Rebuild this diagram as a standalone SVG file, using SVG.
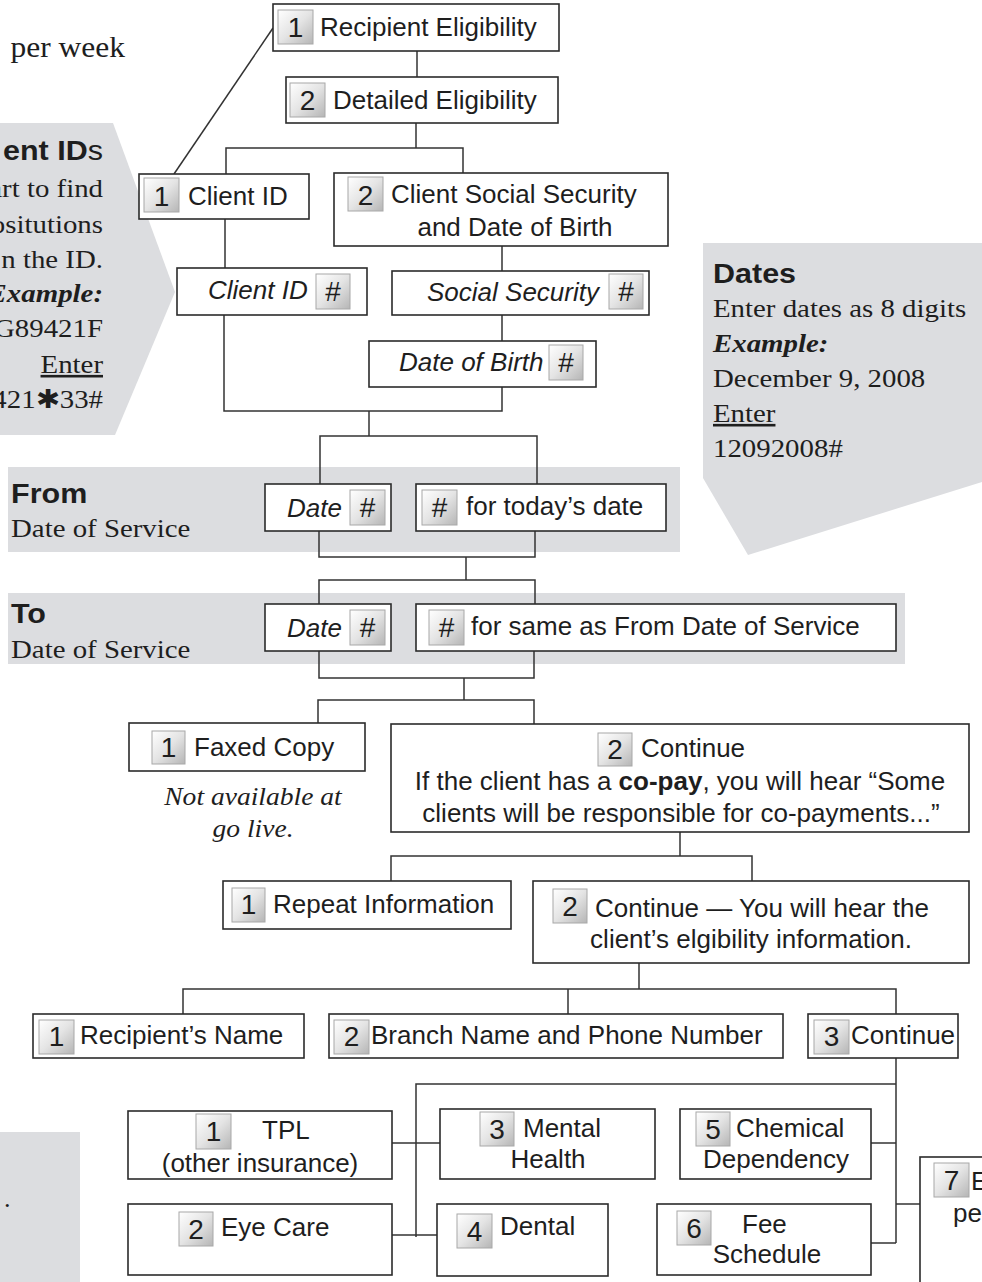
<svg xmlns="http://www.w3.org/2000/svg" width="982" height="1282" viewBox="0 0 982 1282">
<defs>
<linearGradient id="bg" x1="0" y1="0" x2="1" y2="1">
<stop offset="0" stop-color="#ffffff"/>
<stop offset="0.5" stop-color="#e4e4e4"/>
<stop offset="1" stop-color="#b5b5b5"/>
</linearGradient>
<style>
.box{fill:#fff;stroke:#2b2b2b;stroke-width:1.6}
.badge{fill:url(#bg);stroke:#a8a8a8;stroke-width:1}
.t{font-family:"Liberation Sans",Arial,sans-serif;font-size:26px;fill:#1e1e1e}
.it{font-style:italic}
.mid{text-anchor:middle}
.end{text-anchor:end}
.num{font-family:"Liberation Sans",Arial,sans-serif;font-size:28px;fill:#1e1e1e;text-anchor:middle}
.serif{font-family:"Liberation Serif","Times New Roman",serif;font-size:26px;fill:#1e1e1e}
.hdr{font-family:"Liberation Sans",Arial,sans-serif;font-size:27px;font-weight:bold;fill:#1e1e1e}
.callout{fill:#dcdde0}
.conn line,.conn polyline{stroke:#333;stroke-width:1.5;fill:none}
</style>
</defs>
<rect x="0" y="0" width="982" height="1282" fill="#fff"/>

<g id="callouts">
<polygon class="callout" points="0,123 113,123 175,292 115,435 0,435"/>
<polygon class="callout" points="703,243 982,243 982,482 748,555 703,478"/>
<rect class="callout" x="8" y="467" width="672" height="85"/>
<rect class="callout" x="8" y="593" width="897" height="71"/>
<rect class="callout" x="0" y="1132" width="80" height="150"/>
</g>

<g id="notes">
<text class="serif end" transform="translate(125,0) scale(1.05,1)" x="0" y="57" style="font-size:30px">per week</text>
<text class="hdr end" transform="translate(103,0) scale(1.13,1)" x="0" y="160">ent ID<tspan style="font-weight:normal">s</tspan></text>
<g transform="translate(103,0) scale(1.11,1)">
<text class="serif end" x="0" y="197">art to find</text>
<text class="serif end" x="0" y="233">ositutions</text>
<text class="serif end" x="0" y="268">n the ID.</text>
<text class="serif end" x="0" y="302" font-weight="bold" font-style="italic">Example:</text>
<text class="serif end" x="0" y="337">G89421F</text>
<text class="serif end" x="0" y="373" text-decoration="underline">Enter</text>
<text class="serif end" x="0" y="408">421✱33#</text>
</g>
<text class="hdr" transform="translate(713,0) scale(1.13,1)" x="0" y="283">Dates</text>
<g transform="translate(713,0) scale(1.11,1)">
<text class="serif" x="0" y="317">Enter dates as 8 digits</text>
<text class="serif" x="0" y="352" font-weight="bold" font-style="italic">Example:</text>
<text class="serif" x="0" y="387">December 9, 2008</text>
<text class="serif" x="0" y="422" text-decoration="underline">Enter</text>
<text class="serif" x="0" y="457">12092008#</text>
</g>
<text class="hdr" transform="translate(11,0) scale(1.13,1)" x="0" y="503">From</text>
<text class="serif" transform="translate(11,0) scale(1.11,1)" x="0" y="537">Date of Service</text>
<text class="hdr" transform="translate(11,0) scale(1.13,1)" x="0" y="623">To</text>
<text class="serif" transform="translate(11,0) scale(1.11,1)" x="0" y="658">Date of Service</text>
<text class="serif mid" transform="translate(253,0) scale(1.06,1)" x="0" y="805" font-style="italic">Not available at</text>
<text class="serif mid" transform="translate(253,0) scale(1.06,1)" x="0" y="837" font-style="italic">go live.</text>
<text class="serif" x="4" y="1207">.</text>
</g>

<g id="connectors" class="conn">
<line x1="417" y1="51" x2="417" y2="77"/>
<line x1="416" y1="123" x2="416" y2="148"/>
<polyline points="226,174 226,148 463,148 463,173"/>
<line x1="273" y1="28" x2="174" y2="174"/>
<line x1="225" y1="219" x2="225" y2="268"/>
<line x1="502" y1="246" x2="502" y2="271"/>
<line x1="502" y1="315" x2="502" y2="341"/>
<polyline points="224,315 224,411 502,411 502,387"/>
<line x1="369" y1="411" x2="369" y2="436"/>
<polyline points="320,484 320,436 537,436 537,484"/>
<polyline points="319,531 319,557 535,557 535,531"/>
<line x1="466" y1="557" x2="466" y2="580"/>
<polyline points="319,604 319,580 535,580 535,604"/>
<polyline points="319,651 319,678 534,678 534,651"/>
<line x1="464" y1="678" x2="464" y2="700"/>
<polyline points="318,723 318,700 534,700 534,724"/>
<line x1="680" y1="832" x2="680" y2="856"/>
<polyline points="391,881 391,856 752,856 752,881"/>
<line x1="639" y1="963" x2="639" y2="989"/>
<polyline points="183,1014 183,989 896,989 896,1014"/>
<line x1="568" y1="989" x2="568" y2="1014"/>
<line x1="896" y1="1058" x2="896" y2="1243"/>
<polyline points="896,1084 416,1084 416,1237"/>
<line x1="392" y1="1143" x2="440" y2="1143"/>
<line x1="392" y1="1235" x2="437" y2="1235"/>
<line x1="871" y1="1143" x2="896" y2="1143"/>
<line x1="871" y1="1243" x2="896" y2="1243"/>
<line x1="896" y1="1204" x2="920" y2="1204"/>
</g>

<g id="n-recipient-eligibility">
<rect class="box" x="273" y="4" width="286" height="47"/>
<rect class="badge" x="278" y="10" width="35" height="34"/>
<text class="num" x="295.5" y="37">1</text>
<text class="t" x="320" y="36">Recipient Eligibility</text>
</g>
<g id="n-detailed-eligibility">
<rect class="box" x="286" y="77" width="272" height="46"/>
<rect class="badge" x="290" y="83" width="35" height="34"/>
<text class="num" x="307.5" y="110">2</text>
<text class="t" x="333" y="109">Detailed Eligibility</text>
</g>
<g id="n-client-id">
<rect class="box" x="139" y="174" width="170" height="45"/>
<rect class="badge" x="144" y="178" width="35" height="34"/>
<text class="num" x="161.5" y="206">1</text>
<text class="t" x="188" y="205">Client ID</text>
</g>
<g id="n-client-ssn-dob">
<rect class="box" x="334" y="173" width="334" height="73"/>
<rect class="badge" x="348" y="177" width="35" height="34"/>
<text class="num" x="365.5" y="205">2</text>
<text class="t" x="391" y="203">Client Social Security</text>
<text class="t mid" x="515" y="236">and Date of Birth</text>
</g>
<g id="n-client-id-entry">
<rect class="box" x="177" y="268" width="190" height="47"/>
<text class="t it" x="208" y="299">Client ID</text>
<rect class="badge" x="316" y="274" width="34" height="35"/>
<text class="num" x="333" y="301">#</text>
</g>
<g id="n-ssn-entry">
<rect class="box" x="392" y="271" width="257" height="44"/>
<text class="t it" x="427" y="301">Social Security</text>
<rect class="badge" x="609" y="274" width="34" height="35"/>
<text class="num" x="626" y="301">#</text>
</g>
<g id="n-dob-entry">
<rect class="box" x="369" y="341" width="227" height="46"/>
<text class="t it" x="399" y="371">Date of Birth</text>
<rect class="badge" x="549" y="345" width="34" height="35"/>
<text class="num" x="566" y="372">#</text>
</g>
<g id="n-from-date">
<rect class="box" x="265" y="484" width="126" height="47"/>
<text class="t it" x="287" y="517">Date</text>
<rect class="badge" x="350" y="490" width="35" height="35"/>
<text class="num" x="367.5" y="517">#</text>
</g>
<g id="n-from-today">
<rect class="box" x="416" y="484" width="250" height="47"/>
<rect class="badge" x="422" y="490" width="35" height="35"/>
<text class="num" x="439.5" y="517">#</text>
<text class="t" x="466" y="515">for today’s date</text>
</g>
<g id="n-to-date">
<rect class="box" x="265" y="604" width="126" height="47"/>
<text class="t it" x="287" y="637">Date</text>
<rect class="badge" x="350" y="610" width="35" height="35"/>
<text class="num" x="367.5" y="637">#</text>
</g>
<g id="n-to-same">
<rect class="box" x="416" y="604" width="480" height="47"/>
<rect class="badge" x="429" y="610" width="35" height="35"/>
<text class="num" x="446.5" y="637">#</text>
<text class="t" x="471" y="635">for same as From Date of Service</text>
</g>
<g id="n-faxed-copy">
<rect class="box" x="129" y="723" width="236" height="48"/>
<rect class="badge" x="152" y="731" width="33" height="33"/>
<text class="num" x="168.5" y="757">1</text>
<text class="t" x="194" y="756">Faxed Copy</text>
</g>
<g id="n-continue-copay">
<rect class="box" x="391" y="724" width="578" height="108"/>
<rect class="badge" x="598" y="733" width="34" height="33"/>
<text class="num" x="615" y="759">2</text>
<text class="t" x="641" y="757">Continue</text>
<text class="t mid" x="680" y="790">If the client has a <tspan font-weight="bold">co-pay</tspan>, you will hear “Some</text>
<text class="t mid" x="681" y="822">clients will be responsible for co-payments...”</text>
</g>
<g id="n-repeat-info">
<rect class="box" x="223" y="881" width="288" height="48"/>
<rect class="badge" x="232" y="888" width="33" height="34"/>
<text class="num" x="248.5" y="914">1</text>
<text class="t" x="273" y="913">Repeat Information</text>
</g>
<g id="n-continue-eligibility">
<rect class="box" x="533" y="881" width="436" height="82"/>
<rect class="badge" x="553" y="889" width="34" height="34"/>
<text class="num" x="570" y="916">2</text>
<text class="t" x="595" y="917">Continue — You will hear the</text>
<text class="t mid" x="751" y="948">client’s elgibility information.</text>
</g>
<g id="n-recipient-name">
<rect class="box" x="33" y="1014" width="271" height="44"/>
<rect class="badge" x="39" y="1020" width="35" height="34"/>
<text class="num" x="56.5" y="1046">1</text>
<text class="t" x="80" y="1044">Recipient’s Name</text>
</g>
<g id="n-branch">
<rect class="box" x="329" y="1014" width="454" height="44"/>
<rect class="badge" x="334" y="1020" width="35" height="34"/>
<text class="num" x="351.5" y="1046">2</text>
<text class="t" x="371" y="1044">Branch Name and Phone Number</text>
</g>
<g id="n-continue-3">
<rect class="box" x="808" y="1014" width="150" height="44"/>
<rect class="badge" x="814" y="1020" width="35" height="34"/>
<text class="num" x="831.5" y="1046">3</text>
<text class="t" x="851" y="1044">Continue</text>
</g>
<g id="n-tpl">
<rect class="box" x="128" y="1111" width="264" height="68"/>
<rect class="badge" x="196" y="1114" width="35" height="35"/>
<text class="num" x="213.5" y="1141">1</text>
<text class="t" x="262" y="1139">TPL</text>
<text class="t mid" x="260" y="1172">(other insurance)</text>
</g>
<g id="n-eye-care">
<rect class="box" x="128" y="1204" width="264" height="71"/>
<rect class="badge" x="179" y="1212" width="34" height="34"/>
<text class="num" x="196" y="1239">2</text>
<text class="t" x="221" y="1236">Eye Care</text>
</g>
<g id="n-mental-health">
<rect class="box" x="440" y="1109" width="215" height="70"/>
<rect class="badge" x="480" y="1112" width="34" height="34"/>
<text class="num" x="497" y="1139">3</text>
<text class="t" x="523" y="1137">Mental</text>
<text class="t mid" x="548" y="1168">Health</text>
</g>
<g id="n-dental">
<rect class="box" x="437" y="1204" width="171" height="72"/>
<rect class="badge" x="457" y="1214" width="35" height="34"/>
<text class="num" x="474.5" y="1241">4</text>
<text class="t" x="500" y="1235">Dental</text>
</g>
<g id="n-chemical">
<rect class="box" x="680" y="1109" width="191" height="70"/>
<rect class="badge" x="696" y="1112" width="34" height="34"/>
<text class="num" x="713" y="1139">5</text>
<text class="t" x="736" y="1137">Chemical</text>
<text class="t mid" x="776" y="1168">Dependency</text>
</g>
<g id="n-fee-schedule">
<rect class="box" x="657" y="1204" width="214" height="71"/>
<rect class="badge" x="677" y="1211" width="34" height="34"/>
<text class="num" x="694" y="1238">6</text>
<text class="t" x="742" y="1233">Fee</text>
<text class="t mid" x="767" y="1263">Schedule</text>
</g>
<g id="n-option-7">
<rect class="box" x="920" y="1157" width="80" height="140"/>
<rect class="badge" x="934" y="1163" width="35" height="34"/>
<text class="num" x="951.5" y="1190">7</text>
<text class="t" x="971" y="1190">E</text>
<text class="t" x="953" y="1222">pe</text>
</g>
</svg>
